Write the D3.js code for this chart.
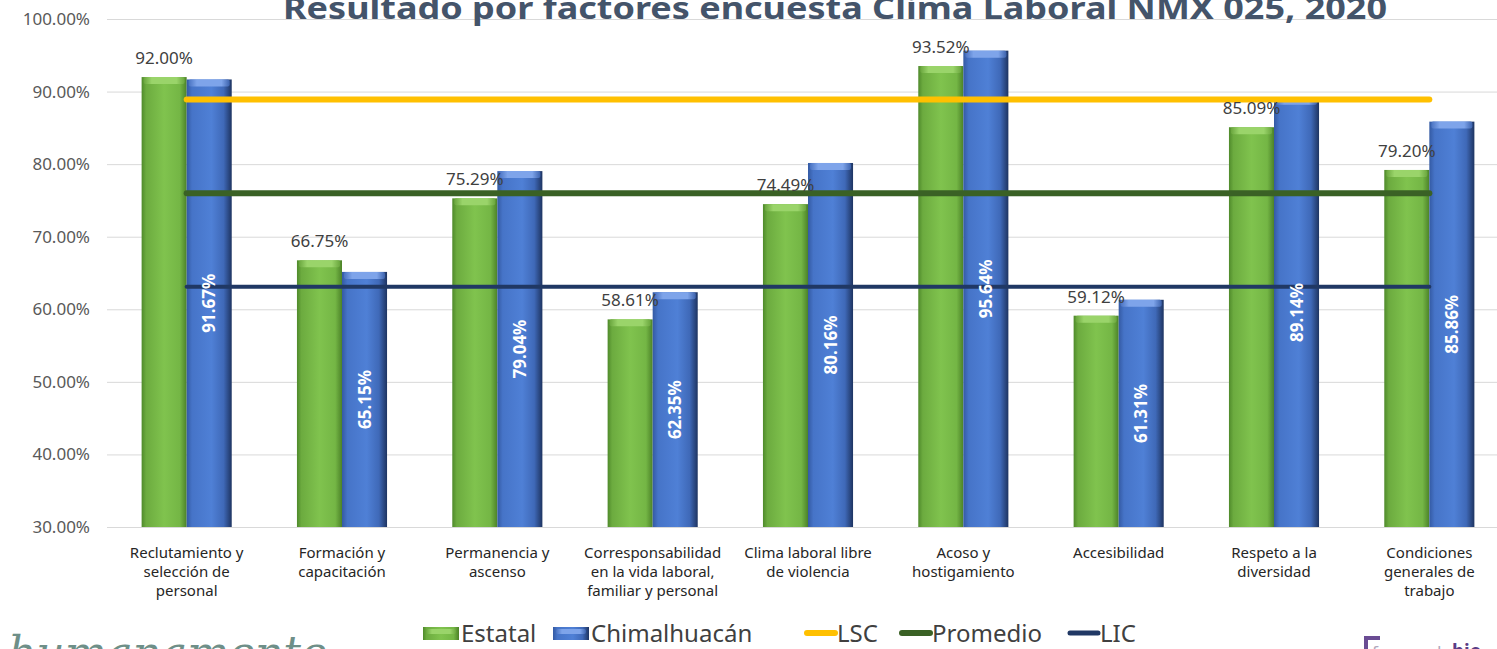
<!DOCTYPE html>
<html>
<head>
<meta charset="utf-8">
<script src="https://cdn.jsdelivr.net/npm/d3@7"></script>
<style>
  html, body { margin: 0; padding: 0; background: #fff; overflow: hidden; }
  svg { display: block; font-family: "Noto Sans", "Open Sans", sans-serif; }
</style>
</head>
<body>
<div id="graph"></div>
<script>
    const categories = ["Reclutamiento y selección de personal", "Formación y capacitación", "Permanencia y ascenso",
      "Corresponsabilidad en la vida laboral, familiar y personal", "Clima laboral libre de violencia",
      "Acoso y hostigamiento", "Accesibilidad", "Respeto a la diversidad", "Condiciones generales de trabajo"];
    const category_lines = [
      ["Reclutamiento y", "selección de", "personal"],
      ["Formación y", "capacitación"],
      ["Permanencia y", "ascenso"],
      ["Corresponsabilidad", "en la vida laboral,", "familiar y personal"],
      ["Clima laboral libre", "de violencia"],
      ["Acoso y", "hostigamiento"],
      ["Accesibilidad"],
      ["Respeto a la", "diversidad"],
      ["Condiciones", "generales de", "trabajo"]
    ];
    const series = ["Estatal", "Chimalhuacán"];
    const estatal = [92.00, 66.75, 75.29, 58.61, 74.49, 93.52, 59.12, 85.09, 79.20];
    const chimalhuacan = [91.67, 65.15, 79.04, 62.35, 80.16, 95.64, 61.31, 89.14, 85.86];
    const lsc = [88.9, 88.9, 88.9, 88.9, 88.9, 88.9, 88.9, 88.9, 88.9];
    const promedio = [76.0, 76.0, 76.0, 76.0, 76.0, 76.0, 76.0, 76.0, 76.0];
    const lic = [63.1, 63.1, 63.1, 63.1, 63.1, 63.1, 63.1, 63.1, 63.1];
    const y_ticks = [30, 40, 50, 60, 70, 80, 90, 100];

    const width = 1497;
    const height = 649;
    const margin = ({top: 19, right: -10, bottom: 122, left: 109});

    let svg = d3.select("#graph").append("svg")
      .attr("width", width)
      .attr("height", height);

    const defs = svg.append("defs");
    function hgrad(id, stops) {
      let g = defs.append("linearGradient").attr("id", id)
        .attr("x1", "0%").attr("x2", "100%").attr("y1", "0%").attr("y2", "0%");
      stops.forEach(s => g.append("stop").attr("offset", s[0]).attr("stop-color", s[1]));
    }
    hgrad("g_green", [["0%", "#4f8a2b"], ["10%", "#6cab3f"], ["50%", "#80c34e"], ["85%", "#74b645"], ["100%", "#4c8228"]]);
    hgrad("g_blue", [["0%", "#345aa3"], ["12%", "#4674c8"], ["55%", "#4f80d6"], ["82%", "#3f69b8"], ["100%", "#1e3461"]]);
    hgrad("g_green_top", [["0%", "#6aa63e"], ["20%", "#9ad46a"], ["80%", "#9ad46a"], ["100%", "#6aa63e"]]);
    hgrad("g_blue_top", [["0%", "#4a73c2"], ["20%", "#7ea4ea"], ["80%", "#7ea4ea"], ["100%", "#3d63ad"]]);

    let x0 = d3.scaleBand()
      .domain(categories)
      .range([margin.left, width - margin.right])
      .paddingInner(0.42)
      .paddingOuter(0.21);
    let x1 = d3.scaleBand()
      .domain(series)
      .range([0, x0.bandwidth()]);
    let y = d3.scaleLinear()
      .domain([30, 100])
      .range([527, margin.top]);

    // gridlines + y labels
    let y_axis = d3.axisLeft(y)
      .tickValues(y_ticks)
      .tickSize(-(width - 107))
      .tickPadding(17)
      .tickFormat(d => d3.format(".2f")(d) + "%");
    let ga = svg.append("g")
      .attr("transform", "translate(107,0)")
      .call(y_axis);
    ga.select(".domain").remove();
    ga.selectAll(".tick line").attr("stroke", "#d9d9d9");
    ga.selectAll(".tick text")
      .attr("fill", "#595959")
      .style("font-size", "17px")
      .attr("font-family", "'Noto Sans', sans-serif");

    // title
    svg.append("text")
      .attr("x", 835)
      .attr("y", 19)
      .attr("text-anchor", "middle")
      .attr("textLength", 1104)
      .attr("lengthAdjust", "spacingAndGlyphs")
      .style("font-size", "30px")
      .style("font-weight", "bold")
      .attr("fill", "#44546a")
      .text("Resultado por factores encuesta Clima Laboral NMX 025, 2020");

    const rows = categories.map((c, i) => ({cat: c, values: [
      {key: "Estatal", value: estatal[i]},
      {key: "Chimalhuacán", value: chimalhuacan[i]}
    ]}));

    let groups = svg.append("g").selectAll("g")
      .data(rows)
      .enter()
      .append("g")
      .attr("transform", d => `translate(${x0(d.cat)},0)`);

    let bars = groups.selectAll("g.bar")
      .data(d => d.values)
      .enter()
      .append("g")
      .attr("class", "bar");
    bars.append("rect")
      .attr("x", d => x1(d.key))
      .attr("y", d => y(d.value))
      .attr("width", x1.bandwidth())
      .attr("height", d => y(30) - y(d.value))
      .attr("fill", d => d.key === "Estatal" ? "url(#g_green)" : "url(#g_blue)");
    bars.append("rect")
      .attr("x", d => x1(d.key) + 2)
      .attr("y", d => y(d.value))
      .attr("width", x1.bandwidth() - 4)
      .attr("height", 7)
      .attr("rx", 2)
      .attr("fill", d => d.key === "Estatal" ? "url(#g_green_top)" : "url(#g_blue_top)");

    // lines
    const cx = (c) => x0(c) + x0.bandwidth() / 2;
    const line = d3.line().x((d, i) => cx(categories[i])).y(d => y(d));
    svg.append("path").datum(lsc).attr("d", line)
      .attr("fill", "none").attr("stroke", "#ffc000").attr("stroke-width", 6).attr("stroke-linecap", "round");
    svg.append("path").datum(promedio).attr("d", line)
      .attr("fill", "none").attr("stroke", "#3a6125").attr("stroke-width", 6).attr("stroke-linecap", "round");
    svg.append("path").datum(lic).attr("d", line)
      .attr("fill", "none").attr("stroke", "#203864").attr("stroke-width", 4).attr("stroke-linecap", "round");

    // data labels, on top of the lines
    let labels = svg.append("g").selectAll("g")
      .data(rows)
      .enter()
      .append("g")
      .attr("transform", d => `translate(${x0(d.cat)},0)`);
    labels.append("text")
      .attr("x", x1("Estatal") + x1.bandwidth() / 2)
      .attr("y", d => y(d.values[0].value) - 13)
      .attr("text-anchor", "middle")
      .attr("fill", "#404040")
      .style("font-size", "17px")
      .text(d => d3.format(".2f")(d.values[0].value) + "%");
    labels.append("text")
      .attr("transform", d => `translate(${x1("Chimalhuacán") + x1.bandwidth() / 2 + 6},${(y(d.values[1].value) + y(30)) / 2}) rotate(-90)`)
      .attr("text-anchor", "middle")
      .attr("fill", "#ffffff")
      .style("font-size", "17px")
      .style("font-weight", "bold")
      .text(d => d3.format(".2f")(d.values[1].value) + "%");

    // category labels
    labels.append("text")
      .attr("text-anchor", "middle")
      .attr("fill", "#262626")
      .style("font-size", "15px")
      .each(function(d, i) {
        d3.select(this).selectAll("tspan")
          .data(category_lines[i])
          .enter()
          .append("tspan")
          .attr("x", x0.bandwidth() / 2)
          .attr("y", (t, j) => 558 + j * 19)
          .text(t => t);
      });

    // legend
    const legend_y = 633;
    const legend_items = [
      {name: "Estatal", type: "bar", fill: "url(#g_green)", top: "url(#g_green_top)", x: 423},
      {name: "Chimalhuacán", type: "bar", fill: "url(#g_blue)", top: "url(#g_blue_top)", x: 553},
      {name: "LSC", type: "line", color: "#ffc000", w: 6, x: 805},
      {name: "Promedio", type: "line", color: "#3a6125", w: 6, x: 900},
      {name: "LIC", type: "line", color: "#203864", w: 5, x: 1068}
    ];
    let lg = svg.append("g").selectAll("g")
      .data(legend_items)
      .enter()
      .append("g")
      .attr("transform", d => `translate(${d.x},${legend_y})`);
    lg.filter(d => d.type === "bar").append("rect")
      .attr("x", 0).attr("y", -6).attr("width", 36).attr("height", 13)
      .attr("fill", d => d.fill);
    lg.filter(d => d.type === "bar").append("rect")
      .attr("x", 3).attr("y", -4).attr("width", 30).attr("height", 5).attr("rx", 2)
      .attr("fill", d => d.top);
    lg.filter(d => d.type === "line").append("line")
      .attr("x1", 2).attr("x2", 30).attr("y1", 0).attr("y2", 0)
      .attr("stroke", d => d.color).attr("stroke-width", d => d.w).attr("stroke-linecap", "round");
    lg.append("text")
      .attr("x", d => d.type === "bar" ? 38 : 32)
      .attr("y", 9)
      .attr("fill", "#404040")
      .style("font-size", "24px")
      .text(d => d.name);

    // logos, partly cut off at the bottom
    svg.append("text")
      .attr("x", 8).attr("y", 668)
      .attr("fill", "#6e8f88")
      .style("font-size", "44px")
      .style("font-style", "italic")
      .attr("font-family", "'DejaVu Serif', serif")
      .text("humanamente");
    svg.append("path")
      .attr("d", "M1366,649 V638 H1380")
      .attr("fill", "none").attr("stroke", "#6a4c93").attr("stroke-width", 4);
    svg.append("text")
      .attr("x", 1372).attr("y", 658)
      .attr("fill", "#b0a8bc")
      .style("font-size", "17px")
      .text("formando");
    svg.append("text")
      .attr("x", 1452).attr("y", 658)
      .attr("fill", "#5b3d86")
      .style("font-size", "19px")
      .style("font-weight", "bold")
      .text("bie");
</script>
</body>
</html>
